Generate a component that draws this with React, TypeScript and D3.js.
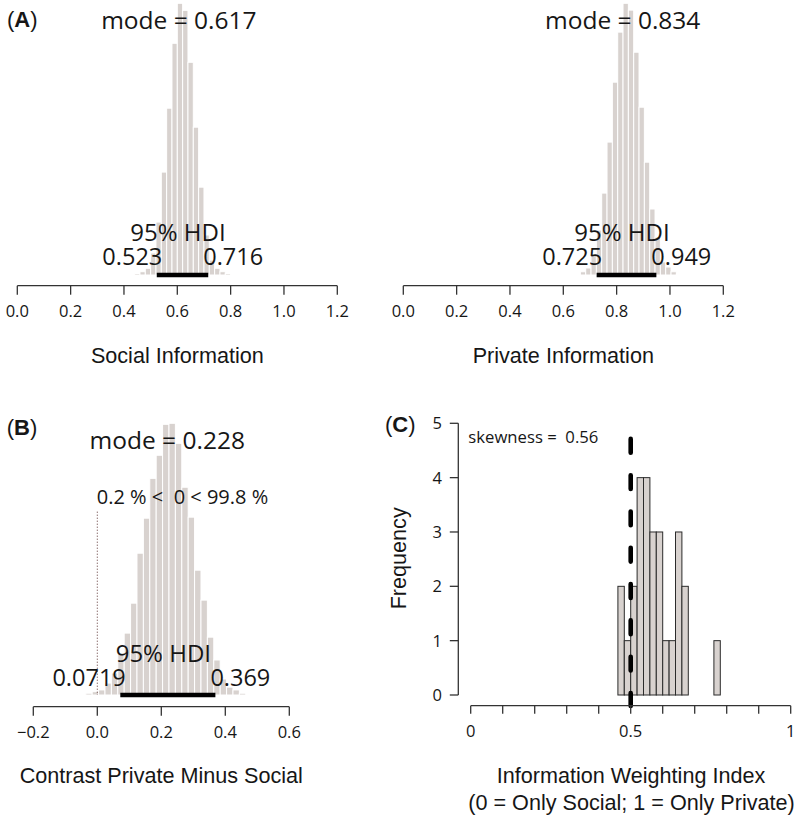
import React from 'react';
import * as d3 from 'd3';

// ---------- data ----------
const BIN_W = 0.02;

const socialBinStart = 0.44;
const socialPct = [0.09, 0.2, 0.41, 1.34, 3.23, 6.28, 10.18, 14.14, 16.58, 16.15, 12.98, 9.02, 5.36, 2.44, 0.91, 0.41, 0.2, 0.09];
const socialMode = 0.617;
const socialHdi = [0.523, 0.716];

const privateBinStart = 0.644;
const privatePct = [0.05, 0.17, 0.37, 1.05, 2.37, 4.32, 7.01, 10.17, 12.81, 14.33, 13.97, 11.75, 8.85, 5.95, 3.48, 2.0, 0.69, 0.42, 0.17, 0.05];
const privateMode = 0.834;
const privateHdi = [0.725, 0.949];

const contrastBinStart = -0.036;
const contrastPct = [0.07, 0.13, 0.2, 0.47, 0.87, 1.65, 2.44, 3.62, 5.59, 6.97, 8.54, 9.45, 10.67, 10.71, 9.92, 8.19, 7.01, 4.92, 3.74, 2.28, 1.38, 0.63, 0.31, 0.2, 0.07];
const contrastMode = 0.228;
const contrastHdi = [0.0719, 0.369];
const contrastCompVal = 0;
const contrastBelow = '0.2';
const contrastAbove = '99.8';

const indexBinStart = 0.46;
const indexCounts = [2, 1, 2, 4, 4, 3, 3, 1, 1, 3, 2, 0, 0, 0, 0, 1];
const indexSkewness = '0.56';
const indexRef = 0.5;

const paramTicks = [0, 0.2, 0.4, 0.6, 0.8, 1.0, 1.2];
const contrastTicks = [-0.2, 0, 0.2, 0.4, 0.6];
const indexTicks = [0, 0.1, 0.2, 0.3, 0.4, 0.5, 0.6, 0.7, 0.8, 0.9, 1];
const indexTickLabels = ['0', '', '', '', '', '0.5', '', '', '', '', '1'];
const freqTicks = [0, 1, 2, 3, 4, 5];

// ---------- style ----------
const BAR_FILL = '#d8d2cf';
const INK = '#161616';
const AXIS = '#333333';
const NUM_FONT = '"Open Sans", "Noto Sans", sans-serif';
const LAB_FONT = '"Liberation Sans", Arial, sans-serif';
const PRE = { whiteSpace: 'pre' as const };

const fmt1 = (v: number) => (v < 0 ? '\u2212' : '') + Math.abs(v).toFixed(1);

type PostProps = {
  domain: [number, number];
  xRange: [number, number];
  ticks: number[];
  yBase: number;
  yTop: number;
  axisY: number;
  binStart: number;
  pct: number[];
  mode: number;
  hdi: number[];
  title: string;
  titleY: number;
  modeY: number;
  hdiTextY: number;
  hdiNumY: number;
  comp?: { val: number; below: string; above: string; textY: number; lineTop: number };
};

function PostPanel(p: PostProps) {
  const xs = d3.scaleLinear().domain(p.domain).range(p.xRange);
  const ys = d3.scaleLinear().domain([0, d3.max(p.pct) as number]).range([p.yBase, p.yTop]);
  const hdiMid = (p.hdi[0] + p.hdi[1]) / 2;
  return (
    <g>
      {p.pct.map((v, i) => {
        const x0 = xs(p.binStart + i * BIN_W);
        const x1 = xs(p.binStart + (i + 1) * BIN_W);
        return (
          <rect key={i} x={x0} y={ys(v)} width={x1 - x0} height={p.yBase - ys(v)}
            fill={BAR_FILL} stroke="#ffffff" strokeWidth={1} />
        );
      })}
      {p.comp && (
        <g>
          <line x1={xs(p.comp.val)} x2={xs(p.comp.val)} y1={p.comp.lineTop} y2={p.yBase}
            stroke="#5a3030" strokeWidth={1} strokeDasharray="1 2" />
          <text x={xs(p.comp.val) - 0.5} y={p.comp.textY} fontFamily={NUM_FONT} fontSize={20} fill={INK} style={PRE}>
            {`${p.comp.below} % <  ${p.comp.val} < ${p.comp.above} %`}
          </text>
        </g>
      )}
      <line x1={xs(p.hdi[0])} x2={xs(p.hdi[1])} y1={p.yBase} y2={p.yBase} stroke="#000" strokeWidth={4.6} />
      <text x={xs(p.mode) - 3} y={p.modeY} textAnchor="middle" fontFamily={NUM_FONT} fontSize={24.5} fill={INK}>
        {`mode = ${String(p.mode)}`}
      </text>
      <text x={xs(hdiMid) - 4.5} y={p.hdiTextY} textAnchor="middle" fontFamily={NUM_FONT} fontSize={24} fill={INK}>
        95% HDI
      </text>
      <text x={xs(p.hdi[0]) + 5.5} y={p.hdiNumY} textAnchor="end" fontFamily={NUM_FONT} fontSize={23.5} fill={INK}>
        {String(p.hdi[0])}
      </text>
      <text x={xs(p.hdi[1]) - 5} y={p.hdiNumY} textAnchor="start" fontFamily={NUM_FONT} fontSize={23.5} fill={INK}>
        {String(p.hdi[1])}
      </text>
      <line x1={xs(p.domain[0])} x2={xs(p.domain[1])} y1={p.axisY} y2={p.axisY} stroke={AXIS} strokeWidth={1.3} />
      {p.ticks.map((t) => (
        <g key={t}>
          <line x1={xs(t)} x2={xs(t)} y1={p.axisY} y2={p.axisY + 9} stroke={AXIS} strokeWidth={1.3} />
          <text x={xs(t)} y={p.axisY + 31} textAnchor="middle" fontFamily={NUM_FONT} fontSize={16.5} fill={INK}>
            {fmt1(t)}
          </text>
        </g>
      ))}
      <text x={(p.xRange[0] + p.xRange[1]) / 2} y={p.titleY} textAnchor="middle" fontFamily={LAB_FONT} fontSize={21.6} fill={INK}>
        {p.title}
      </text>
    </g>
  );
}

function IndexPanel() {
  const xs = d3.scaleLinear().domain([0, 1]).range([470.7, 790.7]);
  const ys = d3.scaleLinear().domain([0, 5]).range([695, 423.3]);
  const axisY = 705.7;
  const yAxisX = 458.3;
  return (
    <g>
      {indexCounts.map((c, i) => {
        const x0 = xs(indexBinStart + i * BIN_W);
        const x1 = xs(indexBinStart + (i + 1) * BIN_W);
        return (
          <rect key={i} x={x0} y={ys(c)} width={x1 - x0} height={ys(0) - ys(c)}
            fill={BAR_FILL} stroke="#2b2b2b" strokeWidth={1} />
        );
      })}
      <line x1={xs(indexRef)} x2={xs(indexRef)} y1={438.9} y2={706} stroke="#000" strokeWidth={4.6}
        strokeLinecap="round" strokeDasharray="13.8 22.5" />
      <line x1={yAxisX} x2={yAxisX} y1={ys(0)} y2={ys(5)} stroke={AXIS} strokeWidth={1.3} />
      {freqTicks.map((t) => (
        <g key={t}>
          <line x1={yAxisX - 8.5} x2={yAxisX} y1={ys(t)} y2={ys(t)} stroke={AXIS} strokeWidth={1.3} />
          <text x={442} y={ys(t)} dy="0.36em" textAnchor="end" fontFamily={NUM_FONT} fontSize={16.5} fill={INK}>
            {String(t)}
          </text>
        </g>
      ))}
      <line x1={xs(0)} x2={xs(1)} y1={axisY} y2={axisY} stroke={AXIS} strokeWidth={1.3} />
      {indexTicks.map((t, i) => (
        <g key={t}>
          <line x1={xs(t)} x2={xs(t)} y1={axisY} y2={axisY + 8} stroke={AXIS} strokeWidth={1.3} />
          {indexTickLabels[i] && (
            <text x={xs(t)} y={736.7} textAnchor="middle" fontFamily={NUM_FONT} fontSize={16.5} fill={INK}>
              {indexTickLabels[i]}
            </text>
          )}
        </g>
      ))}
      <text x={468.3} y={443.3} fontFamily={NUM_FONT} fontSize={16.7} fill={INK} style={PRE}>
        {`skewness =  ${indexSkewness}`}
      </text>
      <text transform="translate(405.5,558.3) rotate(-90)" textAnchor="middle" fontFamily={LAB_FONT} fontSize={21.6} fill={INK}>
        Frequency
      </text>
      <text x={631} y={783} textAnchor="middle" fontFamily={LAB_FONT} fontSize={21.6} fill={INK}>
        Information Weighting Index
      </text>
      <text x={631.5} y={810} textAnchor="middle" fontFamily={LAB_FONT} fontSize={21.6} fill={INK}>
        (0 = Only Social; 1 = Only Private)
      </text>
    </g>
  );
}

function PanelLabel({ x, y, letter }: { x: number; y: number; letter: string }) {
  return (
    <text x={x} y={y} fontFamily={LAB_FONT} fontSize={22} fill={INK}>
      <tspan>(</tspan>
      <tspan fontWeight="bold">{letter}</tspan>
      <tspan>)</tspan>
    </text>
  );
}

export default function App() {
  return (
    <svg width={800} height={823} viewBox="0 0 800 823"
      style={{ position: 'absolute', left: 0, top: 0, background: '#ffffff' }}>
      <rect x={0} y={0} width={800} height={823} fill="#ffffff" />
      <PostPanel domain={[0, 1.2]} xRange={[17.3, 337.3]} ticks={paramTicks} yBase={275} yTop={3.3}
        axisY={285.7} binStart={socialBinStart} pct={socialPct} mode={socialMode} hdi={socialHdi}
        title="Social Information" titleY={363.3} modeY={29.3} hdiTextY={240.7} hdiNumY={265} />
      <PostPanel domain={[0, 1.2]} xRange={[403.3, 723.3]} ticks={paramTicks} yBase={275} yTop={3.3}
        axisY={285.7} binStart={privateBinStart} pct={privatePct} mode={privateMode} hdi={privateHdi}
        title="Private Information" titleY={363.3} modeY={29.3} hdiTextY={240.7} hdiNumY={265} />
      <PostPanel domain={[-0.2, 0.6]} xRange={[33.3, 289.3]} ticks={contrastTicks} yBase={695} yTop={423.3}
        axisY={706.7} binStart={contrastBinStart} pct={contrastPct} mode={contrastMode} hdi={contrastHdi}
        title="Contrast Private Minus Social" titleY={783.3} modeY={449.3} hdiTextY={661.7} hdiNumY={686}
        comp={{ val: contrastCompVal, below: contrastBelow, above: contrastAbove, textY: 504, lineTop: 511.7 }} />
      <IndexPanel />
      <PanelLabel x={7} y={27} letter="A" />
      <PanelLabel x={6.7} y={435} letter="B" />
      <PanelLabel x={385} y={432} letter="C" />
    </svg>
  );
}
